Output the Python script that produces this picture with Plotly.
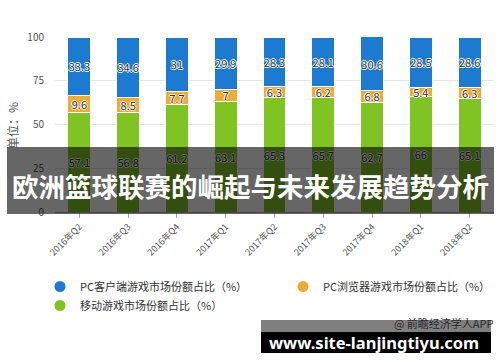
import plotly.graph_objects as go

categories = ["2016年Q2", "2016年Q3", "2016年Q4", "2017年Q1", "2017年Q2",
              "2017年Q3", "2017年Q4", "2018年Q1", "2018年Q2"]
mobile = [57.1, 56.8, 61.2, 63.1, 65.3, 65.7, 62.7, 66, 65.1]
browser = [9.6, 8.5, 7.7, 7, 6.3, 6.2, 6.8, 5.4, 6.3]
client = [33.3, 34.6, 31, 29.9, 28.3, 28.1, 30.6, 28.5, 28.6]
series_names = ["PC客户端游戏市场份额占比（%）", "PC浏览器游戏市场份额占比（%）", "移动游戏市场份额占比（%）"]
y_ticks = [0, 25, 50, 75, 100]

BLUE = "#1c7bd0"
ORANGE = "#eeab36"
GREEN = "#80c423"
FONT = "Noto Sans CJK SC"

W, H = 500, 362
ML, MR, MT, MB = 55, 6, 37, 150
PW, PH = W - ML - MR, H - MT - MB


def px(x):
    return (x - ML) / PW


def py(y):
    return (H - MB - y) / PH


fig = go.Figure()
txtfont = dict(family=FONT, size=11, color="#333333",
               shadow="1px 0px 0px #ffffff, -1px 0px 0px #ffffff, 0px 1px 0px #ffffff, 0px -1px 0px #ffffff")
for vals, color in [(mobile, GREEN), (browser, ORANGE), (client, BLUE)]:
    fig.add_trace(go.Bar(
        x=categories, y=vals, marker=dict(color=color, line=dict(color="white", width=1)),
        text=[f"{v:g}" for v in vals], textposition="inside", insidetextanchor="middle",
        textangle=0, constraintext="none", textfont=txtfont, insidetextfont=txtfont,
        showlegend=False, hoverinfo="skip"))

for name, color in [(series_names[0], BLUE), (series_names[1], ORANGE), (series_names[2], GREEN)]:
    fig.add_trace(go.Scatter(x=[None], y=[None], mode="markers", name=name,
                             marker=dict(symbol="circle", size=11, color=color)))

fig.update_layout(
    width=W, height=H, margin=dict(l=ML, r=MR, t=MT, b=MB, autoexpand=False),
    paper_bgcolor="white", plot_bgcolor="white",
    barmode="stack", bargap=0.53,
    font=dict(family=FONT, color="#555555"),
    legend=dict(orientation="h", x=px(40), y=py(272), xanchor="left", yanchor="top",
                entrywidth=198, entrywidthmode="pixels", traceorder="normal",
                font=dict(size=11, color="#333333"), itemwidth=30),
    xaxis=dict(type="category", tickangle=-45, tickfont=dict(size=9, color="#555555"),
               ticks="outside", ticklen=5, tickcolor="#aaaaaa", showline=True,
               linecolor="#aaaaaa", linewidth=1, showgrid=False, automargin=False),
    yaxis=dict(range=[0, 100], tickvals=y_ticks, tickfont=dict(size=10, color="#555555"),
               gridcolor="#e6e6e6", showline=False, zeroline=False, ticklabelstandoff=10,
               automargin=False),
    shapes=[
        dict(type="rect", xref="paper", yref="paper", x0=px(7), x1=px(494), y0=py(214), y1=py(147),
             fillcolor="rgba(0,0,0,0.6)", line=dict(width=0), layer="above"),
        dict(type="rect", xref="paper", yref="paper", x0=px(261), x1=px(491), y0=py(332), y1=py(315),
             fillcolor="rgba(0,0,0,0.5)", line=dict(width=0), layer="above"),
        dict(type="rect", xref="paper", yref="paper", x0=px(261), x1=px(491), y0=py(353), y1=py(332),
             fillcolor="black", line=dict(width=0), layer="above"),
    ],
    annotations=[
        dict(text="单位：%", xref="paper", yref="paper", x=px(12), y=py(126),
             xanchor="center", yanchor="middle", textangle=-90, showarrow=False,
             font=dict(family=FONT, size=12, color="#555555")),
        dict(text="<b>欧洲篮球联赛的崛起与未来发展趋势分析</b>", xref="paper", yref="paper",
             x=px(250), y=py(185), xanchor="center", yanchor="middle", showarrow=False,
             font=dict(family=FONT, size=26.5, color="white")),
        dict(text="@ 前瞻经济学人APP", xref="paper", yref="paper", x=px(496), y=py(323),
             xanchor="right", yanchor="middle", showarrow=False,
             font=dict(family=FONT, size=11, color="#2a2a2a")),
        dict(text="<b>www.site-lanjingtiyu.com</b>", xref="paper", yref="paper",
             x=px(374), y=py(342), xanchor="center", yanchor="middle", showarrow=False,
             font=dict(family="Noto Sans", size=16.5, color="white")),
    ],
)

fig.write_html("out.html", config={"displayModeBar": False},
               post_script="document.body.style.margin='0';")
